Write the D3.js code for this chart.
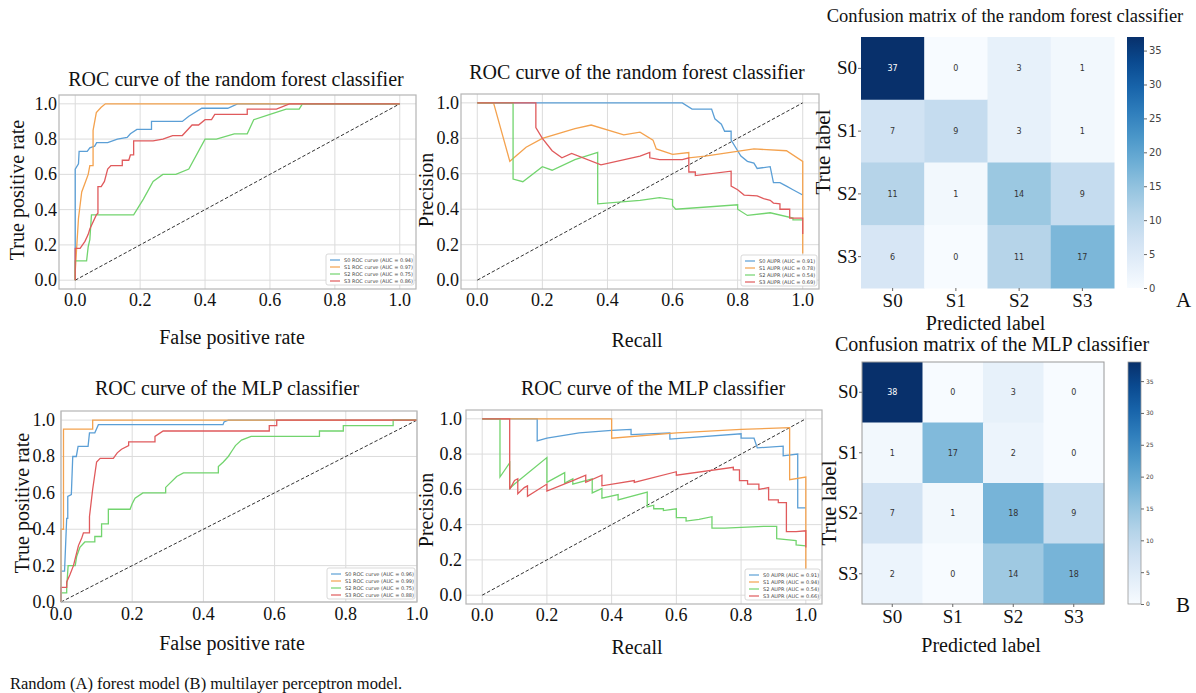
<!DOCTYPE html>
<html>
<head>
<meta charset="utf-8">
<script src="https://cdn.jsdelivr.net/npm/d3@7"></script>
<style>
  body { margin: 0; background: #fff; }
  svg { display: block; }
  .serif { font-family: "Liberation Serif", "Times New Roman", serif; fill: #111; }
  .legend text { font-family: "DejaVu Sans", sans-serif; font-size: 5px; fill: #444; }
  .cell-txt { font-family: "DejaVu Sans", sans-serif; font-size: 8px; }
</style>
</head>
<body>
<div id="chart"></div>
<script>
// ---- data ----
var classes = ["S0", "S1", "S2", "S3"];
var colours = ["#5b9fd6", "#f4a24e", "#72d46e", "#e05a5c"];

// random forest ROC (fpr, tpr)
var rfRocS0 = [[0,0],[0,0.63],[0.01,0.66],[0.012,0.73],[0.037,0.73],[0.045,0.75],[0.06,0.76],[0.066,0.78],[0.1,0.78],[0.13,0.8],[0.16,0.81],[0.17,0.83],[0.19,0.855],[0.235,0.855],[0.235,0.9],[0.33,0.9],[0.35,0.93],[0.39,0.975],[0.47,0.975],[0.5,1],[1,1]];
var rfRocS1 = [[0,0],[0,0.05],[0.01,0.35],[0.02,0.5],[0.03,0.55],[0.04,0.6],[0.045,0.65],[0.055,0.65],[0.055,0.85],[0.065,0.95],[0.08,0.98],[0.093,1],[1,1]];
var rfRocS2 = [[0,0],[0,0.11],[0.035,0.11],[0.04,0.19],[0.045,0.23],[0.05,0.37],[0.18,0.37],[0.21,0.46],[0.24,0.56],[0.27,0.6],[0.31,0.6],[0.35,0.63],[0.4,0.8],[0.435,0.8],[0.49,0.83],[0.53,0.83],[0.55,0.91],[0.6,0.94],[0.65,0.97],[0.69,0.97],[0.7,1],[1,1]];
var rfRocS3 = [[0,0],[0,0.18],[0.015,0.18],[0.03,0.22],[0.04,0.26],[0.045,0.29],[0.065,0.37],[0.07,0.38],[0.07,0.53],[0.08,0.53],[0.09,0.56],[0.1,0.63],[0.11,0.65],[0.145,0.65],[0.145,0.68],[0.165,0.68],[0.17,0.71],[0.18,0.71],[0.18,0.79],[0.24,0.79],[0.27,0.8],[0.3,0.82],[0.33,0.82],[0.36,0.88],[0.38,0.88],[0.4,0.91],[0.42,0.91],[0.43,0.94],[0.53,0.94],[0.53,0.97],[0.62,0.97],[0.66,1],[1,1]];

// random forest precision-recall (recall, precision)
var rfPrS0 = [[0,1],[0.63,1],[0.66,0.965],[0.72,0.965],[0.73,0.91],[0.75,0.88],[0.76,0.84],[0.78,0.84],[0.78,0.79],[0.8,0.73],[0.81,0.7],[0.83,0.67],[0.85,0.66],[0.86,0.63],[0.9,0.64],[0.91,0.55],[0.93,0.55],[0.95,0.53],[0.97,0.51],[1,0.48]];
var rfPrS1 = [[0,1],[0.05,1],[0.1,0.67],[0.15,0.75],[0.2,0.8],[0.3,0.855],[0.35,0.875],[0.45,0.82],[0.5,0.835],[0.54,0.79],[0.55,0.74],[0.6,0.71],[0.65,0.72],[0.65,0.69],[0.7,0.7],[0.85,0.74],[0.95,0.73],[1,0.67],[1,0.15]];
var rfPrS2 = [[0,1],[0.11,1],[0.11,0.57],[0.14,0.555],[0.2,0.64],[0.23,0.62],[0.3,0.68],[0.37,0.72],[0.37,0.43],[0.5,0.45],[0.56,0.465],[0.6,0.455],[0.6,0.42],[0.61,0.4],[0.8,0.425],[0.8,0.4],[0.83,0.365],[0.9,0.38],[0.97,0.35],[0.97,0.34],[1,0.34]];
var rfPrS3 = [[0,1],[0.18,1],[0.18,0.86],[0.2,0.8],[0.23,0.73],[0.26,0.69],[0.29,0.715],[0.38,0.65],[0.5,0.7],[0.53,0.72],[0.53,0.69],[0.56,0.68],[0.63,0.68],[0.65,0.69],[0.65,0.61],[0.67,0.61],[0.67,0.59],[0.78,0.615],[0.78,0.53],[0.8,0.51],[0.82,0.48],[0.86,0.475],[0.88,0.46],[0.9,0.45],[0.91,0.435],[0.93,0.43],[0.93,0.4],[0.96,0.4],[0.96,0.35],[1,0.35],[1,0.26]];

// MLP ROC
var mlpRocS0 = [[0,0],[0,0.17],[0.01,0.17],[0.016,0.46],[0.019,0.46],[0.019,0.58],[0.029,0.59],[0.033,0.8],[0.043,0.8],[0.048,0.855],[0.076,0.855],[0.08,0.93],[0.095,0.93],[0.105,0.975],[0.455,0.975],[0.458,0.99],[0.47,1],[1,1]];
var mlpRocS1 = [[0,0],[0,0.4],[0.007,0.4],[0.007,0.95],[0.089,0.95],[0.089,1],[1,1]];
var mlpRocS2 = [[0,0],[0,0.05],[0.016,0.05],[0.016,0.08],[0.02,0.2],[0.04,0.2],[0.044,0.25],[0.053,0.3],[0.067,0.33],[0.095,0.33],[0.095,0.36],[0.114,0.36],[0.114,0.43],[0.133,0.43],[0.133,0.51],[0.194,0.51],[0.2,0.54],[0.208,0.57],[0.23,0.6],[0.294,0.6],[0.294,0.63],[0.325,0.69],[0.344,0.71],[0.442,0.71],[0.442,0.745],[0.456,0.77],[0.47,0.8],[0.48,0.83],[0.49,0.86],[0.507,0.89],[0.534,0.91],[0.726,0.91],[0.726,0.94],[0.793,0.94],[0.793,0.97],[0.933,0.97],[0.933,1],[1,1]];
var mlpRocS3 = [[0,0],[0,0.08],[0.016,0.08],[0.016,0.11],[0.025,0.15],[0.035,0.2],[0.049,0.31],[0.058,0.35],[0.063,0.38],[0.08,0.38],[0.08,0.47],[0.089,0.62],[0.1,0.77],[0.11,0.79],[0.147,0.79],[0.158,0.82],[0.17,0.84],[0.19,0.86],[0.19,0.88],[0.264,0.88],[0.264,0.91],[0.287,0.94],[0.585,0.94],[0.585,0.97],[0.606,0.97],[0.606,1],[1,1]];

// MLP precision-recall
var mlpPrS0 = [[0,1],[0.17,1],[0.17,0.875],[0.2,0.89],[0.3,0.92],[0.4,0.935],[0.46,0.94],[0.46,0.91],[0.58,0.92],[0.58,0.885],[0.8,0.915],[0.8,0.89],[0.84,0.89],[0.85,0.835],[0.93,0.845],[0.93,0.79],[0.975,0.8],[0.975,0.495],[1,0.495]];
var mlpPrS1 = [[0,1],[0.4,1],[0.4,0.89],[0.6,0.92],[0.8,0.94],[0.95,0.95],[0.95,0.655],[1,0.67],[1,0.15]];
var mlpPrS2 = [[0,1],[0.055,1],[0.055,0.67],[0.085,0.75],[0.085,0.605],[0.1,0.63],[0.2,0.78],[0.2,0.64],[0.255,0.695],[0.255,0.635],[0.28,0.66],[0.28,0.63],[0.34,0.66],[0.34,0.58],[0.37,0.605],[0.37,0.55],[0.42,0.57],[0.42,0.54],[0.51,0.585],[0.51,0.5],[0.53,0.51],[0.53,0.49],[0.56,0.49],[0.56,0.48],[0.6,0.49],[0.6,0.44],[0.63,0.44],[0.63,0.42],[0.67,0.43],[0.71,0.445],[0.71,0.38],[0.75,0.38],[0.8,0.385],[0.87,0.39],[0.91,0.39],[0.91,0.32],[0.94,0.315],[0.97,0.31],[0.97,0.285],[1,0.28]];
var mlpPrS3 = [[0,1],[0.085,1],[0.085,0.6],[0.1,0.65],[0.11,0.66],[0.11,0.575],[0.13,0.61],[0.14,0.62],[0.14,0.56],[0.2,0.63],[0.2,0.59],[0.28,0.65],[0.32,0.68],[0.32,0.64],[0.37,0.68],[0.37,0.62],[0.47,0.65],[0.47,0.64],[0.6,0.7],[0.6,0.68],[0.776,0.725],[0.776,0.71],[0.795,0.71],[0.795,0.65],[0.82,0.65],[0.82,0.63],[0.855,0.63],[0.855,0.6],[0.885,0.61],[0.885,0.54],[0.915,0.54],[0.915,0.525],[0.94,0.525],[0.94,0.36],[0.97,0.36],[1,0.365],[1,0.27]];

var rfRocAuc = ["0.94", "0.97", "0.75", "0.86"];
var rfPrAuc = ["0.91", "0.78", "0.54", "0.69"];
var mlpRocAuc = ["0.96", "0.99", "0.75", "0.88"];
var mlpPrAuc = ["0.91", "0.94", "0.54", "0.66"];

var rfMatrix = [[37, 0, 3, 1], [7, 9, 3, 1], [11, 1, 14, 9], [6, 0, 11, 17]];
var mlpMatrix = [[38, 0, 3, 0], [1, 17, 2, 0], [7, 1, 18, 9], [2, 0, 14, 18]];
var tickVals = [0, 0.2, 0.4, 0.6, 0.8, 1.0];
var barTicks = [0, 5, 10, 15, 20, 25, 30, 35];

var W = 1196, H = 693;
var svg = d3.select("#chart").append("svg").attr("width", W).attr("height", H);

function curvePanel(p) {
  var x = d3.scaleLinear().domain(p.xd).range([p.l, p.r]);
  var y = d3.scaleLinear().domain(p.yd).range([p.b, p.t]);
  var g = svg.append("g");

  // grid
  g.selectAll(".gx").data(tickVals).enter().append("line")
    .attr("x1", function (d) { return x(d); }).attr("x2", function (d) { return x(d); })
    .attr("y1", p.t).attr("y2", p.b).attr("stroke", "#dcdcdc").attr("stroke-width", 1);
  g.selectAll(".gy").data(tickVals).enter().append("line")
    .attr("y1", function (d) { return y(d); }).attr("y2", function (d) { return y(d); })
    .attr("x1", p.l).attr("x2", p.r).attr("stroke", "#dcdcdc").attr("stroke-width", 1);

  var line = d3.line().x(function (d) { return x(d[0]); }).y(function (d) { return y(d[1]); });

  g.append("path").attr("d", line([[0, 0], [1, 1]]))
    .attr("fill", "none").attr("stroke", "#333").attr("stroke-width", 1)
    .attr("stroke-dasharray", "3.5,2");

  p.series.forEach(function (s, i) {
    g.append("path").attr("d", line(s))
      .attr("fill", "none").attr("stroke", colours[i]).attr("stroke-width", 1.3);
  });

  g.append("rect").attr("x", p.l).attr("y", p.t).attr("width", p.r - p.l).attr("height", p.b - p.t)
    .attr("fill", "none").attr("stroke", "#b5b5b5").attr("stroke-width", 1.2);

  // tick labels
  g.selectAll(".tx").data(tickVals).enter().append("text").attr("class", "serif")
    .attr("x", function (d) { return x(d); }).attr("y", p.b + p.txOff)
    .attr("text-anchor", "middle").attr("font-size", 18)
    .text(function (d) { return d.toFixed(1); });
  g.selectAll(".ty").data(tickVals).enter().append("text").attr("class", "serif")
    .attr("x", p.l - p.tyGap).attr("y", function (d) { return y(d) + 6; })
    .attr("text-anchor", "end").attr("font-size", 18)
    .text(function (d) { return d.toFixed(1); });

  g.append("text").attr("class", "serif").attr("x", p.titleX).attr("y", p.titleY)
    .attr("text-anchor", "middle").attr("font-size", 20).text(p.title);
  g.append("text").attr("class", "serif").attr("x", p.xlX).attr("y", p.xlY)
    .attr("text-anchor", "middle").attr("font-size", 20).text(p.xlabel);
  g.append("text").attr("class", "serif")
    .attr("transform", "translate(" + p.ylX + "," + p.ylY + ") rotate(-90)")
    .attr("text-anchor", "middle").attr("font-size", 20).text(p.ylabel);

  // legend
  var lg = g.append("g").attr("class", "legend");
  lg.append("rect").attr("x", p.lgX).attr("y", p.lgY).attr("width", p.r - 2 - p.lgX).attr("height", 31)
    .attr("rx", 2).attr("fill", "#fff").attr("stroke", "#cfcfcf").attr("stroke-width", 0.8);
  classes.forEach(function (c, i) {
    var yy = p.lgY + 6 + i * 7;
    lg.append("line").attr("x1", p.lgX + 4).attr("x2", p.lgX + 14).attr("y1", yy).attr("y2", yy)
      .attr("stroke", colours[i]).attr("stroke-width", 1.2);
    lg.append("text").attr("x", p.lgX + 18).attr("y", yy + 1.8)
      .text(c + p.legText + p.auc[i] + ")");
  });
}

curvePanel({ l: 59, r: 416, t: 95, b: 289, xd: [-0.05, 1.05], yd: [-0.05, 1.05], txOff: 17, tyGap: 2,
  series: [rfRocS0, rfRocS1, rfRocS2, rfRocS3], auc: rfRocAuc, legText: " ROC curve (AUC = ",
  title: "ROC curve of the random forest classifier", titleX: 236, titleY: 86,
  xlabel: "False positive rate", xlX: 232, xlY: 344, ylabel: "True positive rate", ylX: 24, ylY: 190,
  lgX: 326, lgY: 254 });

curvePanel({ l: 461, r: 819, t: 94, b: 289, xd: [-0.05, 1.05], yd: [-0.05, 1.05], txOff: 17, tyGap: 2,
  series: [rfPrS0, rfPrS1, rfPrS2, rfPrS3], auc: rfPrAuc, legText: " AUPR (AUC = ",
  title: "ROC curve of the random forest classifier", titleX: 637, titleY: 79,
  xlabel: "Recall", xlX: 637, xlY: 347, ylabel: "Precision", ylX: 433, ylY: 190,
  lgX: 741, lgY: 255 });

curvePanel({ l: 61, r: 417, t: 411, b: 602, xd: [0, 1], yd: [0, 1.05], txOff: 18, tyGap: 6,
  series: [mlpRocS0, mlpRocS1, mlpRocS2, mlpRocS3], auc: mlpRocAuc, legText: " ROC curve (AUC = ",
  title: "ROC curve of the MLP classifier", titleX: 227, titleY: 395,
  xlabel: "False positive rate", xlX: 232, xlY: 650, ylabel: "True positive rate", ylX: 29, ylY: 503,
  lgX: 327, lgY: 568 });

curvePanel({ l: 466, r: 822, t: 410, b: 604, xd: [-0.05, 1.05], yd: [-0.05, 1.05], txOff: 17, tyGap: 4,
  series: [mlpPrS0, mlpPrS1, mlpPrS2, mlpPrS3], auc: mlpPrAuc, legText: " AUPR (AUC = ",
  title: "ROC curve of the MLP classifier", titleX: 653, titleY: 395,
  xlabel: "Recall", xlX: 637, xlY: 654, ylabel: "Precision", ylX: 433, ylY: 510,
  lgX: 745, lgY: 569 });

// ---- confusion matrices ----
var defs = svg.append("defs");

function heatPanel(p) {
  var vmax = d3.max(p.m, function (r) { return d3.max(r); });
  var colour = d3.scaleSequential(d3.interpolateBlues).domain([0, vmax]);
  var x = d3.scaleBand().domain(classes).range([p.l, p.r]);
  var y = d3.scaleBand().domain(classes).range([p.t, p.b]);
  var g = svg.append("g");

  p.m.forEach(function (row, i) {
    row.forEach(function (v, j) {
      g.append("rect").attr("x", x(classes[j])).attr("y", y(classes[i]))
        .attr("width", x.bandwidth() + 0.5).attr("height", y.bandwidth() + 0.5)
        .attr("fill", colour(v));
      g.append("text").attr("class", "cell-txt")
        .attr("x", x(classes[j]) + x.bandwidth() / 2).attr("y", y(classes[i]) + y.bandwidth() / 2 + 3)
        .attr("text-anchor", "middle").attr("font-size", p.cellFont)
        .attr("fill", v > vmax * 0.6 ? "#fff" : "#333").text(v);
    });
  });
  if (p.frame) {
    g.append("rect").attr("x", p.l).attr("y", p.t).attr("width", p.r - p.l).attr("height", p.b - p.t)
      .attr("fill", "none").attr("stroke", "#999").attr("stroke-width", 1);
  }

  // tick marks and labels
  classes.forEach(function (c) {
    var cy = y(c) + y.bandwidth() / 2, cx = x(c) + x.bandwidth() / 2;
    g.append("line").attr("x1", p.l - 3).attr("x2", p.l).attr("y1", cy).attr("y2", cy).attr("stroke", "#666");
    g.append("line").attr("x1", cx).attr("x2", cx).attr("y1", p.b).attr("y2", p.b + 3).attr("stroke", "#666");
    g.append("text").attr("class", "serif").attr("x", p.l - 4).attr("y", cy + 6)
      .attr("text-anchor", "end").attr("font-size", 19).text(c);
    g.append("text").attr("class", "serif").attr("x", cx).attr("y", p.xtY)
      .attr("text-anchor", "middle").attr("font-size", 19).text(c);
  });

  g.append("text").attr("class", "serif").attr("x", p.titleX).attr("y", p.titleY)
    .attr("text-anchor", "middle").attr("font-size", p.titleSize).text(p.title);
  g.append("text").attr("class", "serif").attr("x", (p.l + p.r) / 2 - 2).attr("y", p.xlY)
    .attr("text-anchor", "middle").attr("font-size", 20).text("Predicted label");
  g.append("text").attr("class", "serif")
    .attr("transform", "translate(" + p.ylX + "," + p.ylY + ") rotate(-90)")
    .attr("text-anchor", "middle").attr("font-size", 21).text("True label");
  g.append("text").attr("class", "serif").attr("x", 1176).attr("y", p.letterY)
    .attr("font-size", 21).text(p.letter);

  // colour bar
  var gid = "grad" + p.letter;
  var grad = defs.append("linearGradient").attr("id", gid)
    .attr("x1", 0).attr("y1", 1).attr("x2", 0).attr("y2", 0);
  d3.range(0, 1.0001, 0.1).forEach(function (t) {
    grad.append("stop").attr("offset", t).attr("stop-color", d3.interpolateBlues(t));
  });
  g.append("rect").attr("x", p.cbL).attr("y", p.t).attr("width", p.cbW).attr("height", p.b - p.t)
    .attr("fill", "url(#" + gid + ")")
    .attr("stroke", p.frame ? "#999" : "none").attr("stroke-width", 0.8);
  var cy = d3.scaleLinear().domain([0, vmax]).range([p.b, p.t]);
  var ax = g.append("g").attr("transform", "translate(" + (p.cbL + p.cbW) + ",0)")
    .call(d3.axisRight(cy).tickValues(barTicks).tickSize(3).tickPadding(2));
  ax.select(".domain").remove();
  ax.selectAll("line").attr("stroke", "#666");
  ax.selectAll("text").attr("font-family", "DejaVu Sans, sans-serif")
    .attr("font-size", p.cbFont).attr("fill", "#444");
}

heatPanel({ m: rfMatrix, l: 861, r: 1114, t: 37, b: 288, frame: false, cellFont: 8,
  title: "Confusion matrix of the random forest classifier", titleX: 1005, titleY: 22, titleSize: 18.5,
  xtY: 307, xlY: 330, ylX: 830, ylY: 152, letter: "A", letterY: 307,
  cbL: 1127, cbW: 17, cbFont: 10 });

heatPanel({ m: mlpMatrix, l: 862, r: 1104, t: 362, b: 604, frame: true, cellFont: 6,
  title: "Confusion matrix of the MLP classifier", titleX: 992, titleY: 351, titleSize: 20,
  xtY: 623, xlY: 652, ylX: 836, ylY: 503, letter: "B", letterY: 612,
  cbL: 1128, cbW: 13, cbFont: 6 });

svg.append("text").attr("class", "serif").attr("x", 10).attr("y", 689)
  .attr("font-size", 16.5).attr("fill", "#222")
  .text("Random (A) forest model (B) multilayer perceptron model.");
</script>
</body>
</html>
